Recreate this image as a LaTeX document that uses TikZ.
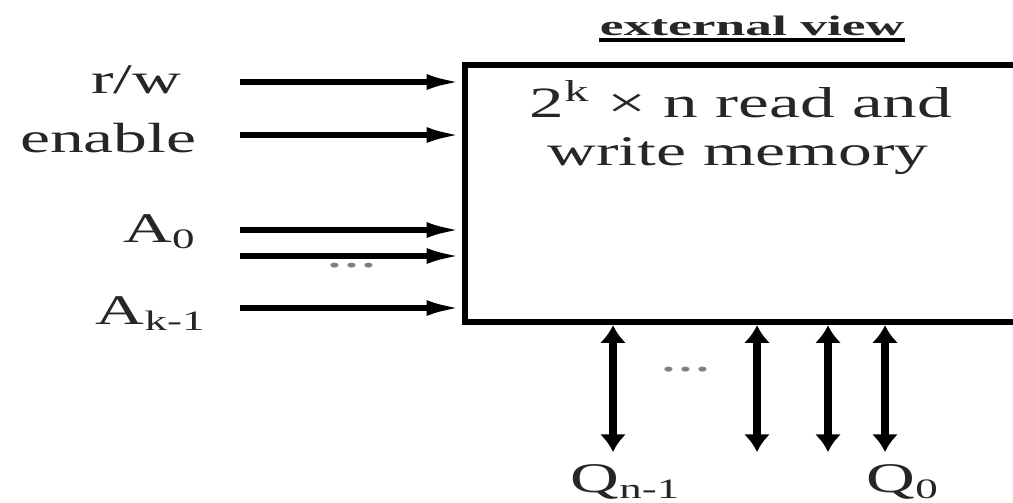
\documentclass[tikz,border=0pt]{standalone}
\usepackage{fontspec}
\setmainfont{Liberation Serif}[FakeStretch=1.6]
\newfontfamily\headfont{Liberation Serif}[FakeStretch=1.9]
\usetikzlibrary{arrows.meta}

\begin{document}
\begin{tikzpicture}[x=0.01cm, y=-0.01cm,
  every node/.style={inner sep=0pt, text=black!85, font=\fontsize{12}{14}\selectfont},
  inarrow/.style={line width=1.6pt, -{Latex[length=10pt,width=4.5pt]}},
  bus/.style={line width=2.1pt, {Latex[length=5pt,width=7.5pt]}-{Latex[length=5pt,width=7.5pt]}},
  gapdots/.style={text=black!50}]
\useasboundingbox (0,0) rectangle (1013,502);
% memory block, its right side runs off the page
\node[draw, line width=1.8pt, minimum width=5.65cm, minimum height=2.57cm] (mem) at (747.5,193.5) {};
\node[anchor=base, font=\fontsize{12.3}{14}\selectfont] (line1) at (741,117) {2\textsuperscript{k} × n read and};
\node[anchor=base] (line2) at (738,165) {write memory};
\node[anchor=base, font=\fontsize{8}{10}\headfont\bfseries] (title) at (752,35) {external view};
\draw[line width=1.4pt] ([yshift=-0.05cm]title.base west) -- ([yshift=-0.05cm]title.base east);
% inputs
\foreach \name/\y in {rw/82, en/135, a0/230, a1/256, ak/308} {
  \coordinate (\name) at (240,\y);
  \draw[inarrow] (\name) -- (\name -| mem.west);
}
\node[anchor=base east] (rwlab) at (182,93) {r/w};
\node[anchor=base east] (enlab) at (197,152) {enable};
\node[anchor=base east] (a0lab) at (197,242) {A\textsubscript{0}};
\node[anchor=base east] (aklab) at (207,324) {A\textsubscript{k-1}};
\node[gapdots] (indots) at (352,266) {...};
% data lines
\foreach \x/\name in {613/qn, 757/qb, 828/qa, 885/q0} {
  \coordinate (\name) at (\x,452);
  \draw[bus] (\name |- mem.south) -- (\name);
}
\node[gapdots] (outdots) at (686,370) {...};
\node[anchor=base west] (qnlab) at (570,492) {Q\textsubscript{n-1}};
\node[anchor=base west] (q0lab) at (866,492) {Q\textsubscript{0}};
\end{tikzpicture}
\end{document}
